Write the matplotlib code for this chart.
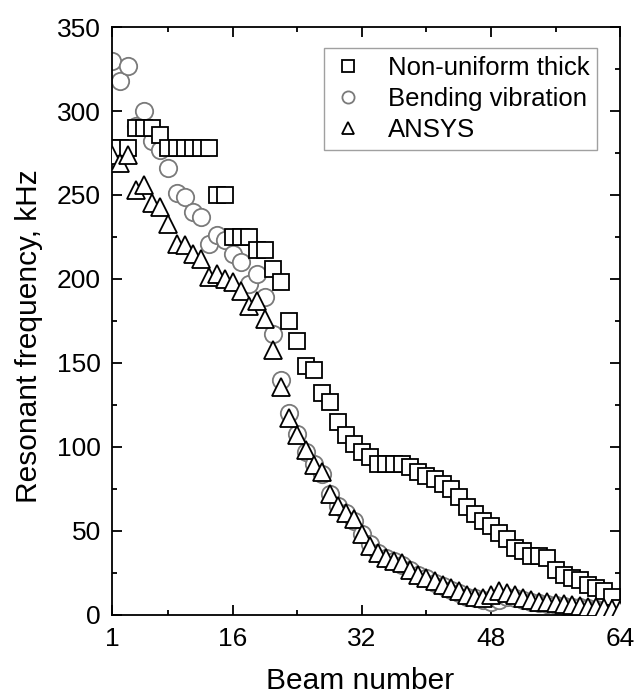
import matplotlib
matplotlib.use("Agg")
import matplotlib.pyplot as plt
from matplotlib.ticker import FixedLocator

plt.rcParams['font.family'] = ['Liberation Sans', 'DejaVu Sans']

beam = list(range(1, 65))

non_uniform = [278, 278, 278, 290, 290, 290, 286, 278, 278, 278,
               278, 278, 278, 250, 250, 225, 225, 225, 217, 217,
               206, 198, 175, 163, 148, 146, 132, 127, 115, 107,
               102, 97, 94, 90, 90, 90, 90, 88, 85, 83,
               81, 78, 75, 70, 64, 60, 56, 53, 49, 45,
               40, 38, 35, 35, 34, 27, 24, 22, 21, 18,
               16, 14, 11, 4]

bending = [330, 318, 327, 291, 300, 282, 277, 266, 251, 249,
           240, 237, 221, 226, 223, 215, 210, 197, 203, 189,
           167, 140, 120, 108, 97, 90, 84, 72, 65, 61,
           56, 48, 42, 37, 34, 32, 30, 27, 24, 22,
           19, 17, 15, 13, 11, 10, 9, 8, 9, 11,
           10, 9, 8, 7, 6.5, 6, 5.5, 5, 4.5, 4,
           3.5, 3, 2.5, 2]

ansys = [274, 269, 274, 253, 256, 245, 243, 233, 221, 220,
         215, 212, 201, 203, 200, 198, 193, 184, 187, 176,
         158, 136, 117, 107, 98, 89, 85, 72, 65, 61,
         57, 48, 41, 37, 34, 32, 31, 27, 24, 22,
         20, 18, 16, 14, 12, 11, 10, 12, 14, 13,
         12, 10, 9, 8, 7.5, 7, 6.5, 6, 5.5, 5,
         4.5, 4, 3.5, 3]

labels = ["Non-uniform thick", "Bending vibration", "ANSYS"]
xticks_major = [1, 16, 32, 48, 64]
xticks_minor = [8, 24, 40, 56]

fig = plt.figure(figsize=(6.35, 6.96), dpi=100)
ax = fig.add_axes([0.1764, 0.1164, 0.8, 0.8448])

ax.plot(beam, non_uniform, ls='none', marker='s', ms=11.5, mfc='white',
        mec='black', mew=1.3, zorder=3, label=labels[0])
ax.plot(beam, bending, ls='none', marker='o', ms=12.5, mfc='white',
        mec='#7a7a7a', mew=1.3, zorder=2, label=labels[1])
ax.plot(beam, ansys, ls='none', marker='^', ms=12.5, mfc='white',
        mec='black', mew=1.3, zorder=4, label=labels[2])

ax.set_xlim(1, 64)
ax.set_ylim(0, 350)
ax.xaxis.set_major_locator(FixedLocator(xticks_major))
ax.xaxis.set_minor_locator(FixedLocator(xticks_minor))
ax.yaxis.set_major_locator(FixedLocator(list(range(0, 351, 50))))
ax.yaxis.set_minor_locator(FixedLocator(list(range(25, 350, 50))))

ax.tick_params(which='both', direction='in', top=True, right=True, width=1.3)
ax.tick_params(which='major', length=7, labelsize=19)
ax.tick_params(which='minor', length=3.5)
ax.tick_params(axis='x', which='major', pad=9)
ax.tick_params(axis='y', which='major', pad=8)
for s in ax.spines.values():
    s.set_linewidth(1.3)

ax.set_xlabel("Beam number", fontsize=21.5)
ax.set_ylabel("Resonant frequency, kHz", fontsize=21.5)
ax.xaxis.set_label_coords(0.488, -0.088)
ax.yaxis.set_label_coords(-0.136, 0.474)

leg = ax.legend(loc='upper right', bbox_to_anchor=(0.955, 0.964),
                borderaxespad=0, fontsize=18.5, numpoints=1,
                frameon=True, fancybox=False, edgecolor='#888888',
                handlelength=1.3, handletextpad=0.9, labelspacing=0.28,
                borderpad=0.3, markerscale=0.7)
leg.get_frame().set_linewidth(1.0)

fig.savefig("out.png", dpi=100)
